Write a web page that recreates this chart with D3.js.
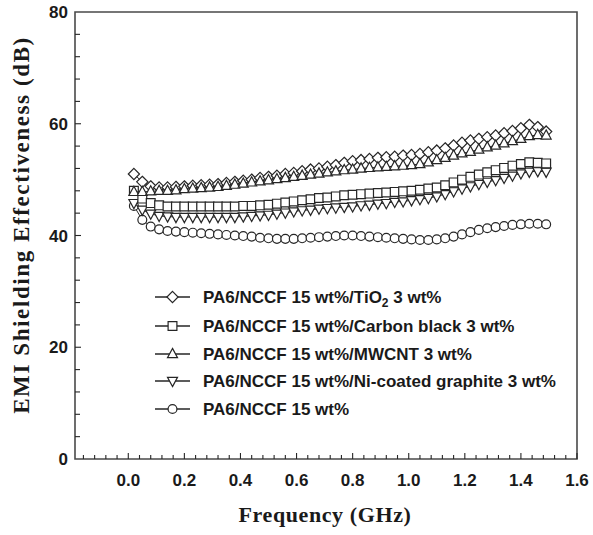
<!DOCTYPE html>
<html>
<head>
<meta charset="utf-8">
<script src="https://cdn.jsdelivr.net/npm/d3@7"></script>
<style>
  body { margin: 0; background: #fff; }
  svg { display: block; }
</style>
</head>
<body>
<div id="chart"></div>
<script>
'use strict';

// frequency points (GHz)
const freq = [0.02, 0.05, 0.08, 0.11, 0.14, 0.17, 0.20, 0.23, 0.26, 0.29,
  0.32, 0.35, 0.38, 0.41, 0.44, 0.47, 0.50, 0.53, 0.56, 0.59,
  0.62, 0.65, 0.68, 0.71, 0.74, 0.77, 0.80, 0.83, 0.86, 0.89,
  0.92, 0.95, 0.98, 1.01, 1.04, 1.07, 1.10, 1.13, 1.16, 1.19,
  1.22, 1.25, 1.28, 1.31, 1.34, 1.37, 1.40, 1.43, 1.46, 1.49];

const tio2 = [51.0, 49.6, 48.8, 48.6, 48.6, 48.7, 48.8, 48.9, 49.0, 49.1,
  49.2, 49.4, 49.6, 49.8, 50.0, 50.3, 50.5, 50.7, 51.0, 51.2,
  51.5, 51.8, 52.0, 52.3, 52.6, 53.0, 53.3, 53.5, 53.7, 53.9,
  54.0, 54.1, 54.3, 54.4, 54.6, 54.9, 55.2, 55.6, 56.1, 56.6,
  57.0, 57.3, 57.6, 57.9, 58.3, 58.7, 59.2, 59.8, 59.4, 58.6];

const carbonBlack = [48.0, 46.6, 45.8, 45.4, 45.2, 45.2, 45.2, 45.2, 45.2, 45.2,
  45.2, 45.2, 45.2, 45.3, 45.3, 45.4, 45.5, 45.7, 45.9, 46.1,
  46.3, 46.5, 46.7, 46.8, 47.0, 47.2, 47.3, 47.4, 47.5, 47.6,
  47.7, 47.8, 47.9, 48.0, 48.2, 48.4, 48.6, 49.0, 49.5, 50.0,
  50.5, 50.9, 51.3, 51.7, 52.1, 52.5, 52.8, 53.1, 53.0, 52.9];

const mwcnt = [47.8, 47.8, 47.9, 48.0, 48.0, 48.1, 48.3, 48.4, 48.5, 48.6,
  48.7, 48.9, 49.1, 49.3, 49.5, 49.7, 49.9, 50.1, 50.3, 50.5,
  50.7, 50.9, 51.1, 51.3, 51.5, 51.7, 51.8, 52.0, 52.1, 52.2,
  52.3, 52.4, 52.5, 52.6, 52.8, 53.1, 53.5, 53.9, 54.3, 54.7,
  55.0, 55.4, 55.8, 56.1, 56.5, 56.9, 57.3, 57.8, 58.0, 57.9];

const niGraphite = [45.8, 44.6, 43.9, 43.5, 43.4, 43.3, 43.3, 43.3, 43.3, 43.3,
  43.3, 43.3, 43.3, 43.4, 43.5, 43.6, 43.7, 43.9, 44.1, 44.3,
  44.5, 44.6, 44.8, 44.9, 45.0, 45.1, 45.2, 45.4, 45.5, 45.7,
  45.8, 46.0, 46.1, 46.3, 46.5, 46.7, 47.0, 47.4, 47.9, 48.4,
  48.8, 49.2, 49.6, 49.9, 50.3, 50.7, 51.1, 51.4, 51.5, 51.4];

const nccfOnly = [45.3, 42.8, 41.6, 41.1, 40.8, 40.7, 40.6, 40.5, 40.4, 40.3,
  40.2, 40.1, 40.0, 39.9, 39.8, 39.6, 39.5, 39.4, 39.4, 39.4,
  39.5, 39.6, 39.7, 39.8, 39.9, 40.0, 40.0, 39.9, 39.8, 39.7,
  39.6, 39.5, 39.4, 39.3, 39.2, 39.2, 39.3, 39.5, 39.8, 40.2,
  40.6, 41.0, 41.3, 41.5, 41.7, 41.9, 42.0, 42.1, 42.1, 42.0];

const xTicks = [0.0, 0.2, 0.4, 0.6, 0.8, 1.0, 1.2, 1.4, 1.6];
const yTicks = [0, 20, 40, 60, 80];

// legend order (top to bottom) and draw order differ
const series = [
  { key: 'tio2', values: tio2, shape: 'diamond', label: ['PA6/NCCF 15 wt%/TiO', '2', ' 3 wt%'] },
  { key: 'cb', values: carbonBlack, shape: 'square', label: ['PA6/NCCF 15 wt%/Carbon black 3 wt%'] },
  { key: 'mwcnt', values: mwcnt, shape: 'triangle', label: ['PA6/NCCF 15 wt%/MWCNT 3 wt%'] },
  { key: 'ni', values: niGraphite, shape: 'invtriangle', label: ['PA6/NCCF 15 wt%/Ni-coated graphite 3 wt%'] },
  { key: 'base', values: nccfOnly, shape: 'circle', label: ['PA6/NCCF 15 wt%'] },
];
const drawOrder = ['base', 'ni', 'cb', 'tio2', 'mwcnt'];

const width = 593;
const height = 535;
const margin = { top: 12, right: 16, bottom: 76, left: 75 };
const ink = '#262626';

const svg = d3
  .select('#chart')
  .append('svg')
  .attr('width', width)
  .attr('height', height);

const x = d3.scaleLinear().domain([-0.19, 1.6]).range([margin.left, width - margin.right]);
const y = d3.scaleLinear().domain([0, 80]).range([height - margin.bottom, margin.top]);

const symbolPath = (shape) => {
  switch (shape) {
    case 'diamond':
      return 'M0,-5.6L5.6,0L0,5.6L-5.6,0Z';
    case 'square':
      return 'M-4.4,-4.4H4.4V4.4H-4.4Z';
    case 'triangle':
      return 'M0,-5.6L5,3.6L-5,3.6Z';
    case 'invtriangle':
      return 'M0,5.6L5,-3.6L-5,-3.6Z';
    default:
      return d3.symbol().type(d3.symbolCircle).size(62)();
  }
};

// frame
const plot = svg.append('g');
plot
  .append('path')
  .attr('d', 'M' + x(-0.19) + ',' + y(0) + 'V' + y(80) + 'H' + x(1.6) + 'V' + y(0) + 'Z')
  .attr('fill', 'none')
  .attr('stroke', '#4a4a4a')
  .attr('stroke-width', 1.6);

// x ticks (inward), minors every 0.04
const xMinor = d3.range(-16, 161, 4).map((d) => d / 100);
plot
  .selectAll('.xtick')
  .data(xMinor)
  .enter()
  .append('line')
  .attr('x1', (d) => x(d))
  .attr('x2', (d) => x(d))
  .attr('y1', y(0))
  .attr('y2', (d) => y(0) - (Math.abs(Math.round(d * 100) % 20) === 0 ? 6 : 4))
  .attr('stroke', ink)
  .attr('stroke-width', 1.1);

// y ticks, minors every 4
const yMinor = d3.range(4, 80, 4);
plot
  .selectAll('.ytick')
  .data(yMinor)
  .enter()
  .append('line')
  .attr('x1', x(-0.19))
  .attr('x2', (d) => x(-0.19) + (d % 20 === 0 ? 6 : 5))
  .attr('y1', (d) => y(d))
  .attr('y2', (d) => y(d))
  .attr('stroke', ink)
  .attr('stroke-width', 1.1);

const tickFont = '"Liberation Sans", Arial, sans-serif';

svg
  .selectAll('.xlabel')
  .data(xTicks)
  .enter()
  .append('text')
  .attr('x', (d) => x(d))
  .attr('y', y(0) + 27)
  .attr('text-anchor', 'middle')
  .style('font-family', tickFont)
  .style('font-weight', 'bold')
  .style('font-size', '17px')
  .attr('fill', '#1a1a1a')
  .text((d) => d.toFixed(1));

svg
  .selectAll('.ylabel')
  .data(yTicks)
  .enter()
  .append('text')
  .attr('x', margin.left - 7)
  .attr('y', (d) => y(d) + 6)
  .attr('text-anchor', 'end')
  .style('font-family', tickFont)
  .style('font-weight', 'bold')
  .style('font-size', '17px')
  .attr('fill', '#1a1a1a')
  .text((d) => d);

const titleFont = '"Liberation Serif", "Times New Roman", serif';

svg
  .append('text')
  .attr('x', 325)
  .attr('y', 522)
  .attr('text-anchor', 'middle')
  .style('font-family', titleFont)
  .style('font-weight', 'bold')
  .style('font-size', '22px')
  .style('letter-spacing', '0.6px')
  .attr('fill', '#1a1a1a')
  .text('Frequency (GHz)');

svg
  .append('text')
  .attr('transform', 'translate(29,225) rotate(-90)')
  .attr('text-anchor', 'middle')
  .style('font-family', titleFont)
  .style('font-weight', 'bold')
  .style('font-size', '23px')
  .style('letter-spacing', '1.6px')
  .attr('fill', '#1a1a1a')
  .text('EMI Shielding Effectiveness (dB)');

// data
const line = d3
  .line()
  .x((d, i) => x(freq[i]))
  .y((d) => y(d));

const byKey = {};
series.forEach((s) => (byKey[s.key] = s));

drawOrder.forEach((k) => {
  const s = byKey[k];
  const g = svg.append('g').attr('class', 'series-' + k);
  g.append('path')
    .attr('d', line(s.values))
    .attr('fill', 'none')
    .attr('stroke', ink)
    .attr('stroke-width', 1);
  g.selectAll('path.mk')
    .data(s.values)
    .enter()
    .append('path')
    .attr('class', 'mk')
    .attr('d', symbolPath(s.shape))
    .attr('transform', (d, i) => 'translate(' + x(freq[i]) + ',' + y(d) + ')')
    .attr('fill', '#fff')
    .attr('stroke', ink)
    .attr('stroke-width', 1.2);
});

// legend
const legendY = [297, 326, 354, 381, 409];
const lg = svg.append('g');
series.forEach((s, i) => {
  const row = lg.append('g').attr('transform', 'translate(0,' + legendY[i] + ')');
  row.append('line')
    .attr('x1', 155)
    .attr('x2', 190)
    .attr('stroke', ink)
    .attr('stroke-width', 1.3);
  row.append('path')
    .attr('d', symbolPath(s.shape))
    .attr('transform', 'translate(172.5,0)')
    .attr('fill', '#fff')
    .attr('stroke', ink)
    .attr('stroke-width', 1.2);
  const t = row.append('text')
    .attr('x', 203)
    .attr('y', 6)
    .style('font-family', tickFont)
    .style('font-weight', 'bold')
    .style('font-size', '17px')
    .attr('fill', '#1a1a1a');
  t.append('tspan').text(s.label[0]);
  if (s.label.length > 1) {
    t.append('tspan').attr('dy', 4).style('font-size', '12px').text(s.label[1]);
    t.append('tspan').attr('dy', -4).text(s.label[2]);
  }
});
</script>
</body>
</html>
